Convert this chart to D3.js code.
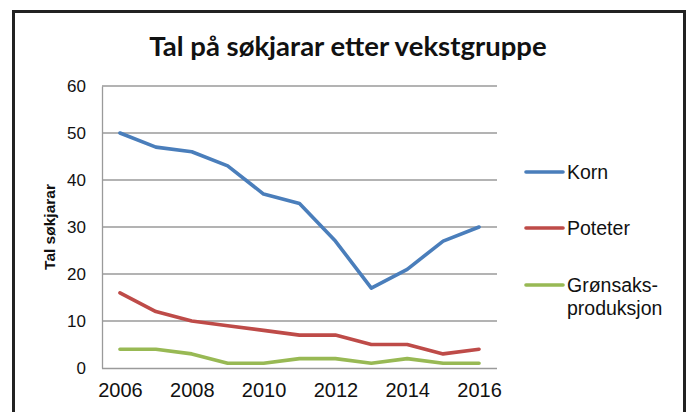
<!DOCTYPE html>
<html><head><meta charset="utf-8">
<script src="https://cdn.jsdelivr.net/npm/d3@7"></script>
<style>body{margin:0;background:#fff}svg{display:block}</style>
</head><body>
<svg id="c" width="690" height="412"></svg>
<script>
const years = ["2006","2007","2008","2009","2010","2011","2012","2013","2014","2015","2016"];
const korn = [50,47,46,43,37,35,27,17,21,27,30];
const poteter = [16,12,10,9,8,7,7,5,5,3,4];
const gronsaks = [4,4,3,1,1,2,2,1,2,1,1];
const seriesNames = ["Korn","Poteter","Grønsaks-|produksjon"];
const seriesColors = ["#4a7ebb","#be4b48","#98b954"];
const yTicks = [0,10,20,30,40,50,60];
const xTickLabels = ["2006","2008","2010","2012","2014","2016"];
const title = "Tal på søkjarar etter vekstgruppe";
const yTitle = "Tal søkjarar";

const svg = d3.select("#c");
svg.append("rect").attr("x",13.5).attr("y",11.5).attr("width",671).attr("height",420)
  .attr("fill","#fff").attr("stroke","#222").attr("stroke-width",3);

const L=102, R=497, T=86, B=368;
const x = d3.scalePoint().domain(years).range([L,R]).padding(0.5);
const y = d3.scaleLinear().domain([0,60]).range([B,T]);

svg.append("g").selectAll("line").data(yTicks.filter(d=>d>0)).join("line")
  .attr("x1",L).attr("x2",R).attr("y1",d=>y(d)).attr("y2",d=>y(d))
  .attr("stroke","#9a9a9a").attr("stroke-width",1.3);

const ya = svg.append("g").attr("transform",`translate(${L},0)`)
  .call(d3.axisLeft(y).tickValues(yTicks).tickSize(0).tickPadding(16));
ya.select(".domain").attr("stroke","#9a9a9a").attr("stroke-width",1.3);
ya.selectAll("text").attr("font-family","Arial, 'Liberation Sans', sans-serif").attr("font-size",17).attr("fill","#111");

const xa = svg.append("g").attr("transform",`translate(0,${B})`)
  .call(d3.axisBottom(x).tickValues(xTickLabels).tickSize(0).tickPadding(15));
xa.select(".domain").attr("stroke","#9a9a9a").attr("stroke-width",1.3).attr("d",`M${L},0.5H${R}`);
xa.selectAll("text").attr("font-family","Arial, 'Liberation Sans', sans-serif").attr("font-size",20).attr("fill","#111");

const data = [korn, poteter, gronsaks];
const line = d3.line().x((d,i)=>x(years[i])).y(d=>y(d));
svg.append("g").selectAll("path").data(data).join("path")
  .attr("d",line).attr("fill","none")
  .attr("stroke",(d,i)=>seriesColors[i]).attr("stroke-width",3.6)
  .attr("stroke-linejoin","round").attr("stroke-linecap","round");

svg.append("text").attr("x",348).attr("y",56).attr("text-anchor","middle")
  .attr("font-family","Lato, 'Open Sans', sans-serif").attr("font-weight","bold")
  .attr("font-size",27.5).attr("fill","#111").text(title);

svg.append("text").attr("transform","translate(55,227) rotate(-90)").attr("text-anchor","middle")
  .attr("font-family","Arial, 'Liberation Sans', sans-serif").attr("font-weight","bold")
  .attr("font-size",15.5).attr("fill","#111").text(yTitle);

const legY = [172,228,285];
const lg = svg.append("g").selectAll("g").data(seriesNames).join("g")
  .attr("transform",(d,i)=>`translate(0,${legY[i]})`);
lg.append("line").attr("x1",526).attr("x2",563).attr("y1",0).attr("y2",0)
  .attr("stroke",(d,i)=>seriesColors[i]).attr("stroke-width",3.6).attr("stroke-linecap","round");
lg.append("text").attr("x",567).attr("y",6.5)
  .attr("font-family","Arial, 'Liberation Sans', sans-serif").attr("font-size",19.5).attr("fill","#111")
  .selectAll("tspan").data(d=>d.split("|")).join("tspan")
  .attr("x",567).attr("dy",(d,i)=>i===0?0:23).text(d=>d);
</script>
</body></html>
